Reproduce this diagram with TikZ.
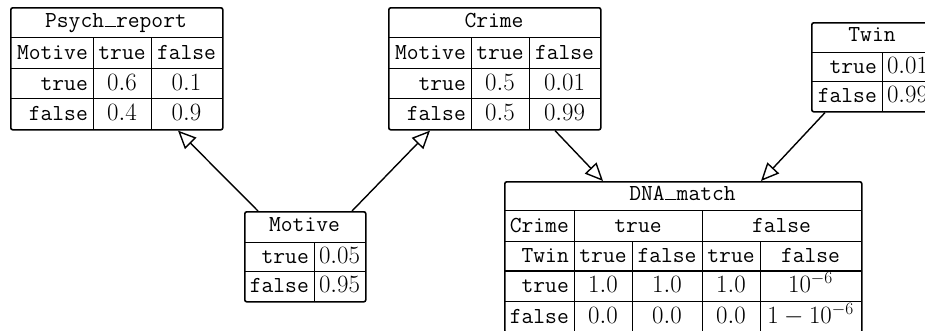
\documentclass[tikz,border=0pt]{standalone}
\usetikzlibrary{arrows.meta,calc}
\newcommand{\ttus}{\makebox[0.525em]{\rule{0.48em}{0.04em}}}
\tikzset{
  frame/.style={draw, line width=1.6pt, rounded corners=2pt, inner sep=0pt, anchor=north west},
  rulel/.style={line width=0.6pt},
  rulex/.style={line width=1.1pt},
  num/.style={inner sep=0pt, font=\fontsize{22.9}{27}\selectfont},
  tt/.style={inner sep=0pt, font=\fontsize{22.9}{27}\selectfont\ttfamily},
  cc/.style={anchor=base},
  rr/.style={anchor=base east},
  link/.style={line width=1.4pt, -{Triangle[open, length=18pt, width=16pt, line width=1.4pt]}}
}
\begin{document}
\begin{tikzpicture}[x=1pt,y=-1pt]
\useasboundingbox (0,0) rectangle (925,330);
\clip (0,0) rectangle (925,330);

% ---------- Psych_report ----------
\draw[rulel] (10,37.5) -- (222,37.5) (10,68) -- (222,68) (10,98.5) -- (222,98.5)
             (93,37.5) -- (93,129) (151,37.5) -- (151,129);
\node[frame, minimum width=212pt, minimum height=122pt] (psych) at (10,7) {};
\node[tt,cc] (p0) at (116,27) {Psych\ttus report};
\node[tt,rr] (p1) at (88,59.5) {Motive};
\node[tt,cc] (p2) at (122,59.5) {true};
\node[tt,cc] (p3) at (186.5,59.5) {false};
\node[tt,rr] (p4) at (88,90) {true};
\node[num,cc] (p5) at (122,90) {$0.6$};
\node[num,cc] (p6) at (186.5,90) {$0.1$};
\node[tt,rr] (p7) at (88,120.5) {false};
\node[num,cc] (p8) at (122,120.5) {$0.4$};
\node[num,cc] (p9) at (186.5,120.5) {$0.9$};

% ---------- Crime ----------
\draw[rulel] (388,37.5) -- (600,37.5) (388,68) -- (600,68) (388,98.5) -- (600,98.5)
             (471,37.5) -- (471,129) (529,37.5) -- (529,129);
\node[frame, minimum width=212pt, minimum height=122pt] (crime) at (388,7) {};
\node[tt,cc] (c0) at (494,27) {Crime};
\node[tt,rr] (c1) at (466,59.5) {Motive};
\node[tt,cc] (c2) at (500,59.5) {true};
\node[tt,cc] (c3) at (564.5,59.5) {false};
\node[tt,rr] (c4) at (466,90) {true};
\node[num,cc] (c5) at (500,90) {$0.5$};
\node[num,cc] (c6) at (564.5,90) {$0.01$};
\node[tt,rr] (c7) at (466,120.5) {false};
\node[num,cc] (c8) at (500,120.5) {$0.5$};
\node[num,cc] (c9) at (564.5,120.5) {$0.99$};

% ---------- Twin ----------
\draw[rulel] (811,52) -- (933,52) (811,81.5) -- (933,81.5) (882,52) -- (882,111);
\node[frame, minimum width=122pt, minimum height=89pt] (twin) at (811,22) {};
\node[tt,cc] (t0) at (872,41.5) {Twin};
\node[tt,rr] (t1) at (877,73) {true};
\node[num,cc] (t2) at (907.5,73) {$0.01$};
\node[tt,rr] (t3) at (877,102.5) {false};
\node[num,cc] (t4) at (907.5,102.5) {$0.99$};

% ---------- Motive ----------
\draw[rulel] (244,242) -- (365,242) (244,271.5) -- (365,271.5) (314,242) -- (314,301);
\node[frame, minimum width=121pt, minimum height=90pt] (motive) at (244,211) {};
\node[tt,cc] (m0) at (304.5,231.5) {Motive};
\node[tt,rr] (m1) at (309,263) {true};
\node[num,cc] (m2) at (339.5,263) {$0.05$};
\node[tt,rr] (m3) at (309,292.5) {false};
\node[num,cc] (m4) at (339.5,292.5) {$0.95$};

% ---------- DNA_match ----------
\draw[rulel] (504,210.5) -- (861,210.5) (504,241) -- (861,241) (504,301) -- (861,301)
             (574,210.5) -- (574,332) (702,210.5) -- (702,332)
             (632,241) -- (632,332) (760,241) -- (760,332);
\draw[rulex] (504,271) -- (861,271);
\node[frame, minimum width=357pt, minimum height=151pt] (dna) at (504,181) {};
\node[tt,cc] (d0) at (682.5,200) {DNA\ttus match};
\node[tt,rr] (d1) at (569,232.5) {Crime};
\node[tt,cc] (d2) at (638,232.5) {true};
\node[tt,cc] (d3) at (781.5,232.5) {false};
\node[tt,rr] (d4) at (569,262.5) {Twin};
\node[tt,cc] (d5) at (603,262.5) {true};
\node[tt,cc] (d6) at (667,262.5) {false};
\node[tt,cc] (d7) at (731,262.5) {true};
\node[tt,cc] (d8) at (810.5,262.5) {false};
\node[tt,rr] (d9) at (569,292.5) {true};
\node[num,cc] (d10) at (603,292.5) {$1.0$};
\node[num,cc] (d11) at (667,292.5) {$1.0$};
\node[num,cc] (d12) at (731,292.5) {$1.0$};
\node[num,cc] (d13) at (810.5,292.5) {$10^{-6}$};
\node[tt,rr] (d14) at (569,323.5) {false};
\node[num,cc] (d15) at (603,323.5) {$0.0$};
\node[num,cc] (d16) at (667,323.5) {$0.0$};
\node[num,cc] (d17) at (731,323.5) {$0.0$};
\node[num,cc] (d18) at (810.5,323.5) {$1-10^{-6}$};

% ---------- connectors ----------
\draw[link] ($(motive.north west)+(14,0)$) -- ($(psych.south west)+(168,0)$);
\draw[link] ($(motive.north west)+(108,0)$) -- ($(crime.south west)+(42,0)$);
\draw[link] ($(crime.south west)+(167,0)$) -- ($(dna.north west)+(99,0)$);
\draw[link] ($(twin.south west)+(14,0)$) -- ($(dna.north west)+(257,0)$);
\end{tikzpicture}
\end{document}
